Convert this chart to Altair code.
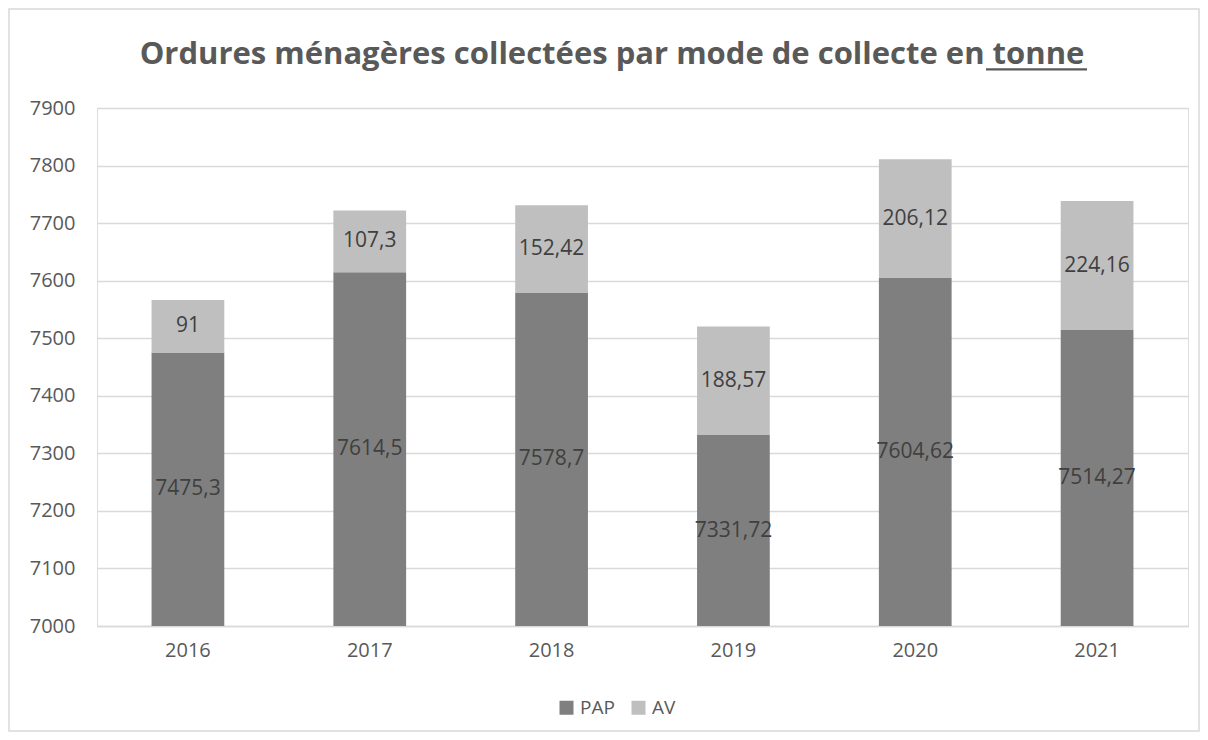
import altair as alt
import pandas as pd

years = ["2016", "2017", "2018", "2019", "2020", "2021"]
pap = [7475.3, 7614.5, 7578.7, 7331.72, 7604.62, 7514.27]
av = [91, 107.3, 152.42, 188.57, 206.12, 224.16]
pap_labels = ["7475,3", "7614,5", "7578,7", "7331,72", "7604,62", "7514,27"]
av_labels = ["91", "107,3", "152,42", "188,57", "206,12", "224,16"]
series = ["PAP", "AV"]
colors = ["#7f7f7f", "#bfbfbf"]
y_ticks = [7000, 7100, 7200, 7300, 7400, 7500, 7600, 7700, 7800, 7900]
title_text = "Ordures ménagères collectées par mode de collecte en tonne"

FONT = "Open Sans"
Y_MIN, Y_MAX = 7000, 7900

rows = []
for i, yr in enumerate(years):
    rows.append({"year": yr, "series": "PAP", "y0": 0, "y1": pap[i],
                 "mid": (Y_MIN + pap[i]) / 2, "label": pap_labels[i]})
    rows.append({"year": yr, "series": "AV", "y0": pap[i], "y1": pap[i] + av[i],
                 "mid": pap[i] + av[i] / 2, "label": av_labels[i]})
df = pd.DataFrame(rows)

W, H = 1091, 518

x = alt.X("year:N", sort=years, title=None,
          scale=alt.Scale(paddingInner=0.6, paddingOuter=0.3),
          axis=alt.Axis(labelAngle=0, labelFont=FONT, labelFontSize=20,
                        labelColor="#595959", domainColor="#d9d9d9", ticks=False,
                        labelPadding=14, domainWidth=1.5))
yscale = alt.Scale(domain=[Y_MIN, Y_MAX], zero=False, nice=False)

bars = alt.Chart(df).mark_bar(clip=True).encode(
    x=x,
    y=alt.Y("y0:Q", scale=yscale, title=None,
            axis=alt.Axis(values=y_ticks, format="d", labelFont=FONT, labelFontSize=20,
                          labelColor="#595959", grid=True, gridColor="#d9d9d9",
                          gridWidth=1.5, domain=False, ticks=False, labelPadding=22)),
    y2="y1:Q",
    color=alt.Color("series:N", sort=series,
                    scale=alt.Scale(domain=series, range=colors),
                    legend=alt.Legend(title=None, orient="none", direction="horizontal",
                                      legendX=460, legendY=590, symbolType="square",
                                      symbolSize=196, symbolStrokeWidth=0,
                                      labelFont=FONT, labelFontSize=19,
                                      labelColor="#595959", columnPadding=14,
                                      symbolOpacity=1)),
)

labels = alt.Chart(df).mark_text(font=FONT, fontSize=21, color="#404040").encode(
    x=alt.X("year:N", sort=years),
    y=alt.Y("mid:Q", scale=yscale),
    text="label:N",
)

one = pd.DataFrame({"t": [title_text]})

border = alt.Chart(one).mark_rect(
    fill=None, stroke="#d9d9d9", strokeWidth=1.5
).encode(x=alt.value(-88), x2=alt.value(1102), y=alt.value(-99), y2=alt.value(623))

title = alt.Chart(one).mark_text(
    font=FONT, fontSize=31, fontWeight="bold", color="#595959",
    align="center", baseline="alphabetic"
).encode(x=alt.value(515), y=alt.value(-44), text="t:N")

underline = alt.Chart(one).mark_rule(
    color="#595959", strokeWidth=2.3
).encode(x=alt.value(889), x2=alt.value(990), y=alt.value(-38.7))

chart = alt.layer(border, bars, labels, title, underline).properties(
    width=W, height=H,
    padding={"left": 89, "top": 100, "right": 12, "bottom": 106},
    autosize=alt.AutoSizeParams(type="none"),
).configure_view(stroke=None).configure(background="white")

chart.save("out.html", embed_options={"renderer": "svg", "actions": False})
